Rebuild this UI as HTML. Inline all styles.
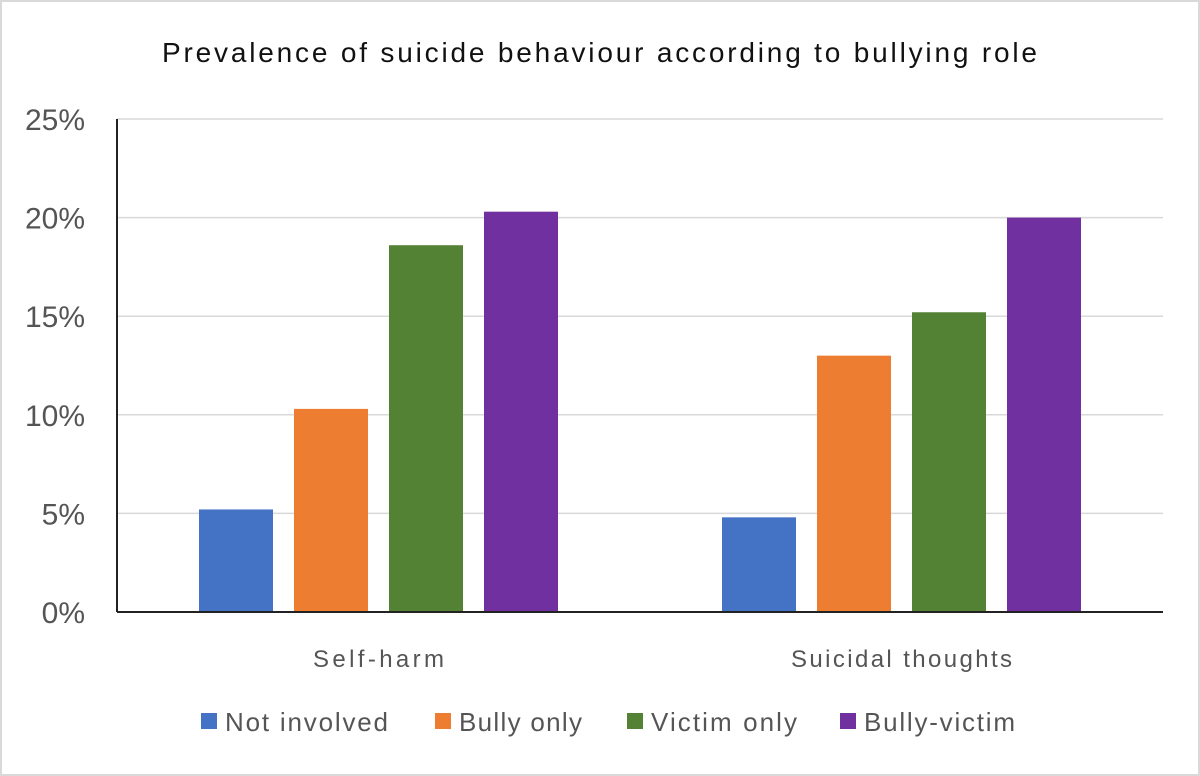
<!DOCTYPE html>
<html><head><meta charset="utf-8"><style>
html,body{margin:0;padding:0;background:#fff;}
body{width:1200px;height:776px;overflow:hidden;font-family:"Liberation Sans",sans-serif;}
#frame{position:absolute;left:0;top:0;width:1196px;height:772px;border:2px solid #d9d9d9;}
</style></head><body>
<div id="frame"></div>
<svg id="chart" width="1200" height="776" style="position:absolute;left:0;top:0"></svg>
<script>
const categories = ["Self-harm", "Suicidal thoughts"];
const seriesNames = ["Not involved", "Bully only", "Victim only", "Bully-victim"];
const notInvolved = [5.2, 4.8];
const bullyOnly = [10.3, 13.0];
const victimOnly = [18.6, 15.2];
const bullyVictim = [20.3, 20.0];
const tickValues = [0, 5, 10, 15, 20, 25];
const tickLabels = ["0%", "5%", "10%", "15%", "20%", "25%"];

const series = [notInvolved, bullyOnly, victimOnly, bullyVictim];
const colors = ["#4472c4", "#ed7d31", "#548235", "#7030a0"];
const NS = "http://www.w3.org/2000/svg";
const svg = document.getElementById("chart");
const x0 = 117, x1 = 1163, y0 = 612, y1 = 119, yMax = 25;
const y = v => y0 - (v / yMax) * (y0 - y1);
const bandW = (x1 - x0) / categories.length;
const barW = 74, stride = 95;
function mk(tag, attrs, text) {
  const e = document.createElementNS(NS, tag);
  for (const k in attrs) e.setAttribute(k, attrs[k]);
  if (text !== undefined) e.textContent = text;
  svg.appendChild(e);
  return e;
}
let t = mk("text", {x: 162, y: 62, "font-size": 28, fill: "#111", textLength: 875, lengthAdjust: "spacing"}, "Prevalence of suicide behaviour according to bullying role");


tickValues.forEach((v, i) => {
  if (v > 0) {
    const g = mk("line", {x1: x0, x2: x1, y1: y(v), y2: y(v), stroke: "#d9d9d9", "stroke-width": 1.5});
    
    
  }
  const l = mk("text", {x: 85, y: y(v) + 11, "text-anchor": "end", "font-size": 30, fill: "#555"}, tickLabels[i]);
  
  
});
const catW = [131, 221];
categories.forEach((c, ci) => {
  const cx = x0 + bandW * (ci + 0.5);
  series.forEach((s, si) => {
    const bx = cx + (si - 1.5) * stride - barW / 2;
    const r = mk("rect", {x: bx, y: y(s[ci]), width: barW, height: y0 - y(s[ci]), fill: colors[si]});
    
    
  });
  const cl = mk("text", {x: cx, y: 667, "text-anchor": "middle", "font-size": 24, fill: "#555", textLength: catW[ci], lengthAdjust: "spacing"}, c);
  
  
});
let ax = mk("line", {x1: x0, x2: x0, y1: y1, y2: y0, stroke: "#222", "stroke-width": 2});


let bx = mk("line", {x1: x0, x2: x1, y1: y0, y2: y0, stroke: "#222", "stroke-width": 2});


const legX = [201, 435, 627, 840];
const legW = [163, 123, 146, 151];
seriesNames.forEach((n, i) => {
  const sq = mk("rect", {x: legX[i], y: 713, width: 16, height: 16, fill: colors[i]});
  
  
  const lt = mk("text", {x: legX[i] + 24, y: 731, "font-size": 26, fill: "#555", textLength: legW[i], lengthAdjust: "spacing"}, n);
  
  
});
</script>
</body></html>
